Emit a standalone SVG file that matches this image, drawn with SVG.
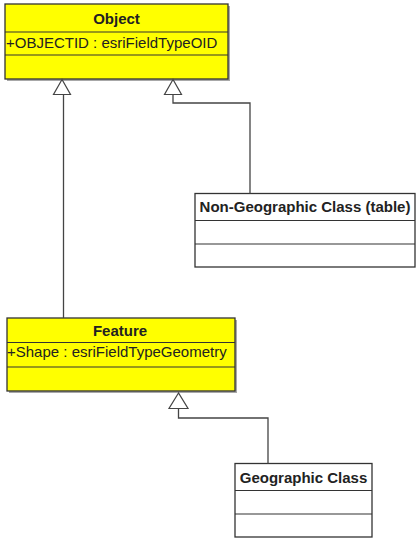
<svg xmlns="http://www.w3.org/2000/svg" width="417" height="541" viewBox="0 0 417 541">
  <style>
    .box { stroke: #333; stroke-width: 1.3; }
    .yellow { fill: #ffff00; }
    .white { fill: #ffffff; }
    .shadow { fill: #a8a8a8; }
    .div { stroke: #333; stroke-width: 1.2; fill: none; }
    .title { font-family: "Liberation Sans", Arial, sans-serif; font-size: 15px; font-weight: bold; fill: #222; text-anchor: middle; }
    .attr { font-family: "Liberation Sans", Arial, sans-serif; font-size: 15px; fill: #222; }
    .edge { stroke: #444; stroke-width: 1.3; fill: none; }
    .head { stroke: #444; stroke-width: 1.2; fill: #ffffff; }
  </style>

  <rect width="417" height="541" fill="#ffffff"/>

  <!-- Object class -->
  <g id="object">
    <rect class="shadow" x="7" y="6" width="223" height="75"/>
    <rect class="box yellow" x="5" y="4" width="223" height="75"/>
    <line class="div" x1="5" y1="32" x2="228" y2="32"/>
    <line class="div" x1="5" y1="55" x2="228" y2="55"/>
    <text class="title" x="116.5" y="23.5">Object</text>
    <text class="attr" x="6" y="47.5">+OBJECTID : esriFieldTypeOID</text>
  </g>

  <!-- Feature class -->
  <g id="feature">
    <rect class="shadow" x="9" y="320" width="228" height="73"/>
    <rect class="box yellow" x="7" y="318" width="228" height="73"/>
    <line class="div" x1="7" y1="342.5" x2="235" y2="342.5"/>
    <line class="div" x1="7" y1="367" x2="235" y2="367"/>
    <text class="title" x="120" y="335.5">Feature</text>
    <text class="attr" x="7" y="356.5">+Shape : esriFieldTypeGeometry</text>
  </g>

  <!-- Non-geographic table class -->
  <g id="nongeo">
    <rect class="box white" x="195" y="193.5" width="220" height="73.5"/>
    <line class="div" x1="195" y1="220.5" x2="415" y2="220.5"/>
    <line class="div" x1="195" y1="244" x2="415" y2="244"/>
    <text class="title" x="305" y="212">Non-Geographic Class (table)</text>
  </g>

  <!-- Geographic class -->
  <g id="geo">
    <rect class="box white" x="235" y="463.5" width="137" height="73.5"/>
    <line class="div" x1="235" y1="490.5" x2="372" y2="490.5"/>
    <line class="div" x1="235" y1="514" x2="372" y2="514"/>
    <text class="title" x="303.5" y="483">Geographic Class</text>
  </g>

  <!-- Generalization connectors -->
  <g id="connectors">
    <path class="edge" d="M63.5,95 V318"/>
    <polygon class="head" points="62,79.5 53.5,94.5 70.5,94.5"/>

    <path class="edge" d="M173,95 V103 H250 V193.5"/>
    <polygon class="head" points="173,79.5 164.5,94.5 181.5,94.5"/>

    <path class="edge" d="M178.5,409 V418 H268 V463.5"/>
    <polygon class="head" points="178.5,393 169,408.5 188,408.5"/>
  </g>
</svg>
